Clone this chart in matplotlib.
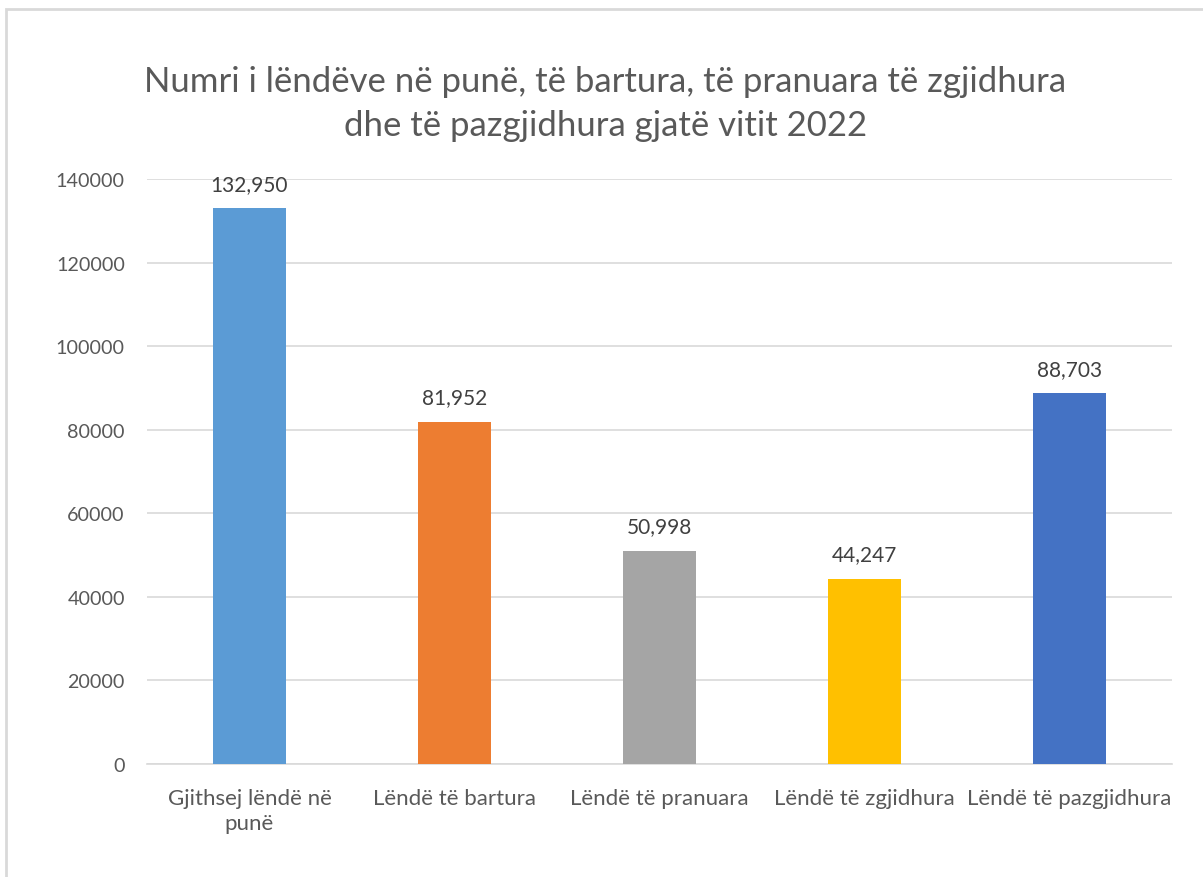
import matplotlib.pyplot as plt
from matplotlib.patches import Rectangle

categories = ['Gjithsej lëndë në\npunë', 'Lëndë të bartura', 'Lëndë të pranuara',
              'Lëndë të zgjidhura', 'Lëndë të pazgjidhura']
values = [132950, 81952, 50998, 44247, 88703]
colors = ['#5b9bd5', '#ed7d31', '#a5a5a5', '#ffc000', '#4472c4']
yticks = [0, 20000, 40000, 60000, 80000, 100000, 120000, 140000]

plt.rcParams['font.family'] = ['Lato', 'DejaVu Sans']

fig = plt.figure(figsize=(12.03, 8.78), dpi=100)
ax = fig.add_axes([147/1203, 1 - 765/878, (1172-147)/1203, (765-180)/878])

# outer chart border (runs off the right and bottom of the image)
fig.patches.append(Rectangle((6/1203, -0.1), 1.2, 1 - 10/878 + 0.1,
                             transform=fig.transFigure, fill=False,
                             edgecolor='#d9d9d9', linewidth=2))

x = range(len(categories))
bars = ax.bar(x, values, width=0.355, color=colors, zorder=3)
for b, v in zip(bars, values):
    ax.text(b.get_x() + b.get_width()/2, v + 3500, f'{v:,}', ha='center', va='bottom',
            fontsize=15, color='#404040')

ax.set_xlim(-0.5, len(categories) - 0.5)
ax.set_ylim(0, 140000)
ax.set_yticks(yticks)
ax.set_yticklabels([str(t) for t in yticks])
ax.set_xticks(list(x))
ax.set_xticklabels(categories, linespacing=1.35)
ax.yaxis.grid(True, color='#d9d9d9', linewidth=1.2, zorder=0)
ax.tick_params(axis='y', length=0, pad=16, labelsize=14.2, labelcolor='#595959')
ax.tick_params(axis='x', length=0, pad=17, labelsize=16, labelcolor='#595959')
for s in ['top', 'right', 'left']:
    ax.spines[s].set_visible(False)
ax.spines['bottom'].set_color('#d9d9d9')
ax.spines['bottom'].set_linewidth(1.2)

fig.text(0.503, 1 - 104/878, 'Numri i lëndëve në punë, të bartura, të pranuara të zgjidhura\n'
         'dhe të pazgjidhura gjatë vitit 2022', ha='center', va='center',
         fontsize=25, color='#595959', linespacing=1.45)

fig.savefig('out.png', dpi=100)
